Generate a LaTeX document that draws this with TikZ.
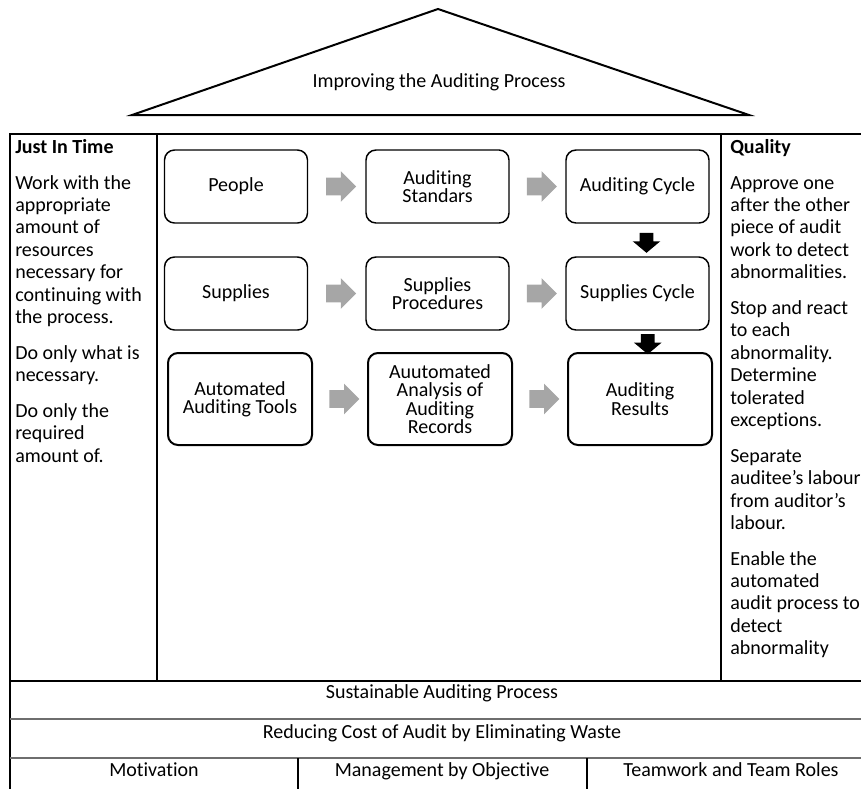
\documentclass[tikz,border=0pt]{standalone}
\usepackage{fontspec}
\setmainfont{Carlito}[Ligatures={NoCommon}]
\usetikzlibrary{shapes.arrows,calc}
\newdimen\px \px=0.75pt
\newcommand{\mainfs}{\fontsize{15}{16.8}\selectfont}
\newcommand{\boxfs}{\fontsize{15}{13.7}\selectfont}
\definecolor{arrowgray}{HTML}{A6A6A6}
\definecolor{rowgray}{HTML}{6E6E6E}
\tikzset{
  every node/.style={inner sep=0pt, font=\mainfs},
  roofline/.style={line width=1.5pt, line join=miter},
  frameline/.style={line width=1.3pt},
  divider/.style={line width=2pt},
  rowline/.style={line width=0.9pt, draw=rowgray},
  procbox/.style={draw, rounded corners=10\px, line width=1.1pt, align=center,
    font=\boxfs, minimum width=143\px, minimum height=73\px},
  procboxb/.style={procbox, line width=1.5pt, minimum width=144\px, minimum height=92\px},
  grayarrow/.style={single arrow, fill=arrowgray, draw=none, minimum height=30\px,
    inner xsep=0pt, inner ysep=8.5\px, text height=0pt, text depth=0pt,
    single arrow head extend=6.5\px, single arrow tip angle=90},
  blackarrow/.style={single arrow, fill=black, draw=none, minimum height=20\px,
    inner xsep=0pt, inner ysep=6.5\px, text height=0pt, text depth=0pt,
    single arrow head extend=7\px, single arrow tip angle=100, rotate=-90},
  coltext/.style={anchor=north west, align=left, font=\mainfs},
  celltext/.style={font=\mainfs, text height=11pt, text depth=3.5pt}
}
\begin{document}
\begin{tikzpicture}[x=0.75pt,y=-0.75pt]
\useasboundingbox (0,0) rectangle (861,789);
\clip (0,0) rectangle (861,789);

% roof
\draw[roofline] (132,115) -- (438,9) -- (749,115) -- cycle;
\node[celltext] (roof) at (439,82) {Improving the Auditing Process};

% frame
\draw[frameline] (10,789) -- (10,134) -- (880,134);
\draw[frameline] (10,681) -- (880,681);
\draw[divider] (157,134) -- (157,681);
\draw[divider] (721,134) -- (721,681);
\draw[rowline] (10,719) -- (880,719);
\draw[rowline] (10,758) -- (880,758);
\draw[frameline] (298,758) -- (298,789);
\draw[frameline] (587,758) -- (587,789);

% side columns
\node[coltext] (jit) at (15,137.5) {\strut\textbf{Just In Time}\\[10pt]Work with the\\appropriate\\amount of\\resources\\necessary for\\continuing with\\the process.\\[10pt]Do only what is\\necessary.\\[10pt]Do only the\\required\\amount of.};
\node[coltext] (qual) at (730,137.5) {\strut\textbf{Quality}\\[10pt]Approve one\\after the other\\piece of audit\\work to detect\\abnormalities.\\[10pt]Stop and react\\to each\\abnormality.\\Determine\\tolerated\\exceptions.\\[10pt]Separate\\auditee's labour\\from auditor's\\labour.\\[10pt]Enable the\\automated\\audit process to\\detect\\abnormality};

% process boxes
\node[procbox] (people) at (236,186.5) {People};
\node[procbox] (stds) at (437.5,186.5) {Auditing\\Standars};
\node[procbox] (acyc) at (637.5,186.5) {Auditing Cycle};
\node[procbox] (sup) at (236,293.5) {Supplies};
\node[procbox] (supproc) at (437.5,293.5) {Supplies\\Procedures};
\node[procbox] (supcyc) at (637.5,293.5) {Supplies Cycle};
\node[procboxb] (tools) at (240,399) {Automated\\Auditing Tools};
\node[procboxb] (analysis) at (440,399) {Auutomated\\Analysis of\\Auditing\\Records};
\node[procboxb] (results) at (640,399) {Auditing\\Results};

% gray arrows
\node[grayarrow] (g1) at ($(people.east)!0.5!(stds.west)$) {};
\node[grayarrow] (g2) at ($(stds.east)!0.5!(acyc.west)$) {};
\node[grayarrow] (g3) at ($(sup.east)!0.5!(supproc.west)$) {};
\node[grayarrow] (g4) at ($(supproc.east)!0.5!(supcyc.west)$) {};
\node[grayarrow] (g5) at ($(tools.east)!0.5!(analysis.west)$) {};
\node[grayarrow] (g6) at ($(analysis.east)!0.5!(results.west)$) {};

% black arrows
\node[blackarrow] (d1) at ($(acyc.south)!0.5!(supcyc.north)+(9,0)$) {};
\node[blackarrow] (d2) at ($(supcyc.south)!0.5!(results.north)+(9,0)$) {};

% foundation rows
\node[celltext] (sust) at (442,693) {Sustainable Auditing Process};
\node[celltext] (cost) at (442,733) {Reducing Cost of Audit by Eliminating Waste};
\node[celltext] (motiv) at (154,771) {Motivation};
\node[celltext] (mbo) at (442,771) {Management by Objective};
\node[celltext] (team) at (731,771) {Teamwork and Team Roles};
\end{tikzpicture}
\end{document}
